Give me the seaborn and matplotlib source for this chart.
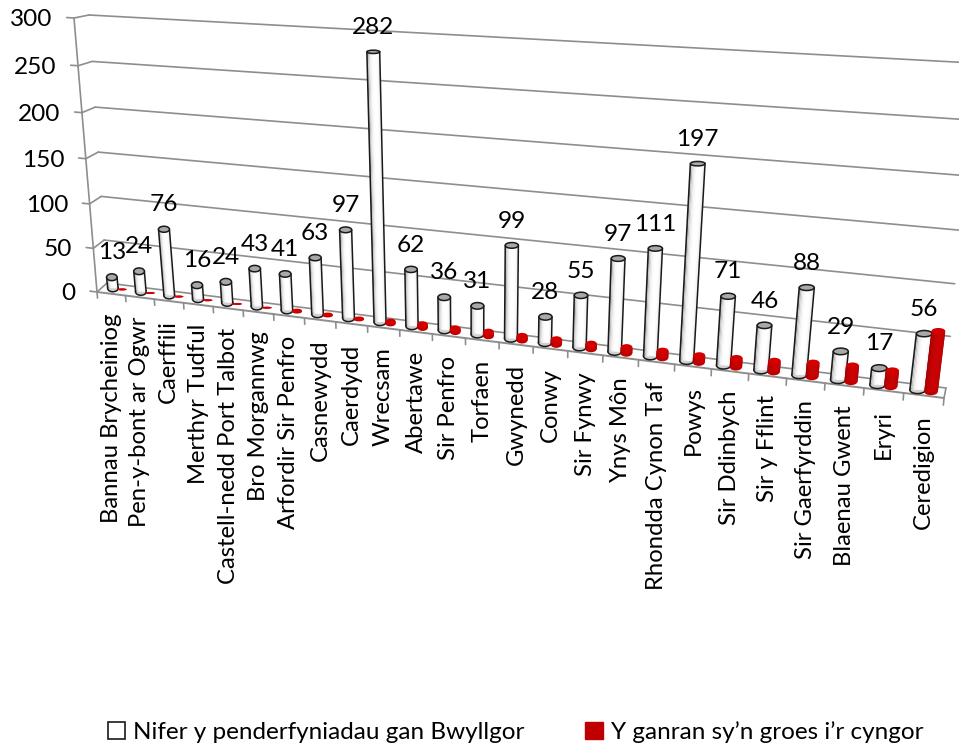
import numpy as np
import pandas as pd
import matplotlib
matplotlib.use('Agg')
import matplotlib.pyplot as plt
import seaborn as sns
from matplotlib.patches import Ellipse, Rectangle, Patch
from matplotlib.transforms import Transform

categories = ['Bannau Brycheiniog', 'Pen-y-bont ar Ogwr', 'Caerffili', 'Merthyr Tudful',
              'Castell-nedd Port Talbot', 'Bro Morgannwg', 'Arfordir Sir Penfro', 'Casnewydd',
              'Caerdydd', 'Wrecsam', 'Abertawe', 'Sir Penfro', 'Torfaen', 'Gwynedd', 'Conwy',
              'Sir Fynwy', 'Ynys Môn', 'Rhondda Cynon Taf', 'Powys', 'Sir Ddinbych', 'Sir y Fflint',
              'Sir Gaerfyrddin', 'Blaenau Gwent', 'Eryri', 'Ceredigion']
decisions = [13, 24, 76, 16, 24, 43, 41, 63, 97, 282, 62, 36, 31, 99, 28, 55, 97, 111, 197, 71,
             46, 88, 29, 17, 56]
against_advice = [0, 0, 0, 0, 0, 0, 1, 1, 1, 2, 3, 3, 4, 4, 5, 5, 6, 7, 7, 9, 11, 14, 16, 16, 60]
y_ticks = [0, 50, 100, 150, 200, 250, 300]
series_names = ['Nifer y penderfyniadau gan Bwyllgor', 'Y ganran sy’n groes i’r cyngor']

W, H = 959, 746
FS = 17.6
GRID = '#8e8e8e'
RED = '#c00000'
BAR_WIDTH = 0.66
WHITE_WIDEN = 1.15


def fit_plane(uv, px):
    # homography from (category, value) to picture pixels
    rows, rhs = [], []
    for (u, v), (x, y) in zip(uv, px):
        rows.append([u, v, 1, 0, 0, 0, -u * x, -v * x])
        rows.append([0, 0, 0, u, v, 1, -u * y, -v * y])
        rhs += [x, y]
    sol = np.linalg.lstsq(np.array(rows, float), np.array(rhs, float), rcond=None)[0]
    return np.append(sol, 1).reshape(3, 3)


class Plane(Transform):
    input_dims = 2
    output_dims = 2
    is_separable = False
    has_inverse = False

    def __init__(self, matrix):
        super().__init__()
        self.matrix = matrix

    def transform_non_affine(self, values):
        values = np.asarray(values, float)
        pts = np.column_stack([values, np.ones(len(values))]) @ self.matrix.T
        return pts[:, :2] / pts[:, 2:]


edge_uv = [(-0.5, 0), (24.5, 0), (-0.5, 300), (24.5, 300)]
front = Plane(fit_plane(edge_uv, [(97, 292), (944, 398), (74, 18), (973, 73)]))
back = Plane(fit_plane(edge_uv, [(107, 283), (946, 388), (89, 15), (973, 63)]))
bars = Plane(fit_plane(
    [(-0.165, 0), (1.835, 0), (1.835, 76), (8.835, 0), (8.835, 282),
     (17.835, 0), (17.835, 197), (23.835, 0), (23.835, 56)],
    [(112.5, 288), (169, 295), (165, 230), (379.5, 322), (372.5, 52),
     (687, 361), (699, 163), (919, 390), (922, 334)]))

sns.set_theme(style='white')
plt.rcParams['font.family'] = ['Lato', 'DejaVu Sans']

df = pd.DataFrame({
    'category': categories * 2,
    'value': decisions + against_advice,
    'series': [series_names[0]] * 25 + [series_names[1]] * 25,
})

fig = plt.figure(figsize=(W / 100, H / 100), dpi=100)
ax = fig.add_axes([0, 0, 1, 1])
sns.barplot(data=df, x='category', y='value', hue='series', order=categories, hue_order=series_names,
            palette=['white', RED], width=BAR_WIDTH, gap=0, legend=False, ax=ax)
ax.set_xlim(0, W)
ax.set_ylim(H, 0)
ax.autoscale(False)
ax.axis('off')

tf_front = front + ax.transData
tf_back = back + ax.transData
tf_bars = bars + ax.transData

# walls and floor
for v in y_ticks:
    ax.plot([-0.5, 24.5], [v, v], color=GRID, lw=1.2, transform=tf_back, zorder=1, clip_on=False)
    a = front.transform_non_affine([[-0.5, v]])[0]
    b = back.transform_non_affine([[-0.5, v]])[0]
    ax.plot([a[0], b[0]], [a[1], b[1]], color=GRID, lw=1.2, zorder=1)
    ax.plot([-0.5, -0.75], [v, v], color=GRID, lw=1.2, transform=tf_front, zorder=1)
    ax.annotate(str(v), xy=(-0.5, v), xycoords=tf_front, xytext=(-15.5, -1), textcoords='offset points',
                ha='right', va='center', fontsize=FS, color='black')
ax.plot([-0.5, -0.5], [0, 300], color=GRID, lw=1.2, transform=tf_front, zorder=1)
ax.plot([-0.5, 24.5], [0, 0], color=GRID, lw=1.4, transform=tf_front, zorder=1)
a = front.transform_non_affine([[24.5, 0]])[0]
b = back.transform_non_affine([[24.5, 0]])[0]
ax.plot([a[0], b[0]], [a[1], b[1]], color=GRID, lw=1.2, zorder=1)

for i, name in enumerate(categories):
    ax.plot([i - 0.5, i - 0.5], [0, -7], color=GRID, lw=1.2, transform=tf_front, zorder=1)
    ax.annotate(name, xy=(i, 0), xycoords=tf_front, xytext=(0, -14), textcoords='offset points',
                ha='center', va='top', rotation=90, fontsize=17.2, color='black')
ax.plot([24.5, 24.5], [0, -7], color=GRID, lw=1.2, transform=tf_front, zorder=1)


def ellipse_height(v):
    return 7 - 0.013 * v


def level_ellipse(xc, w, v, height, **kw):
    # ellipses stay level in the picture, only their centre and width follow the plane
    left, right = bars.transform_non_affine([[xc - w / 2, v], [xc + w / 2, v]])
    centre = (left + right) / 2
    return Ellipse(centre, right[0] - left[0], height, **kw)


def level_shift(x, xc):
    # value offset that cancels the slope of the plane across one bar
    pts = bars.transform_non_affine([[x, 0], [xc, 0]])
    return pts[0, 1] - pts[1, 1]


def draw_cylinder(rect, order, is_red):
    if not is_red:
        xc = rect.get_x() + rect.get_width() / 2
        rect.set_width(rect.get_width() * WHITE_WIDEN)
        rect.set_x(xc - rect.get_width() / 2)
    x0, w, h = rect.get_x(), rect.get_width(), rect.get_height()
    xc = x0 + w / 2
    z = 3 + order * 0.01 + (0.005 if is_red else 0)
    base_h = min(ellipse_height(0), 2 + 2 * h) if is_red else ellipse_height(0)
    top_h = min(ellipse_height(h), 2 + 2 * h) if is_red else ellipse_height(h)

    # the seaborn bar is the body, inset so its sloped ends stay inside the ellipses
    rect.set_transform(tf_bars)
    rect.set_linewidth(0)
    rect.set_zorder(z + 0.0005)
    rect.set_clip_on(False)
    rect.set_y(1)
    rect.set_height(max(h - 2, 0))

    edge = 'none' if is_red else '#1a1a1a'
    ax.add_patch(level_ellipse(xc, w, 0, base_h, fc=RED if is_red else '#d0d0d0', ec=edge, lw=1.1, zorder=z))
    strips = 12
    for k in range(strips):
        t = abs((k + 0.5) / strips * 2 - 1.2) / 1.2
        if is_red:
            col = (0.82 - 0.2 * t ** 2, 0, 0)
        else:
            g = 1 - 0.5 * t ** 3
            col = (g, g, g)
        sx = x0 + k * w / strips
        shift = level_shift(sx + w / strips / 2, xc)
        ax.add_patch(Rectangle((sx, shift), w / strips, h, transform=tf_bars, fc=col, lw=0,
                               zorder=z + 0.001))
    if not is_red:
        for side in (x0, x0 + w):
            shift = level_shift(side, xc)
            ax.plot([side, side], [shift, h + shift], color='#1a1a1a', lw=1.1, transform=tf_bars,
                    zorder=z + 0.002)
    ax.add_patch(level_ellipse(xc, w, h, top_h, fc='#d40000' if is_red else '#a8a8a8', ec=edge, lw=1.1,
                               zorder=z + 0.003))


for i, rect in enumerate(ax.containers[0]):
    value = rect.get_height()
    draw_cylinder(rect, i, False)
    xc = rect.get_x() + rect.get_width() / 2
    ax.annotate(str(decisions[i]), xy=(xc, value), xycoords=tf_bars, xytext=(0, 17.5),
                textcoords='offset points', ha='center', va='center', fontsize=FS, color='black', zorder=6)
for i, rect in enumerate(ax.containers[1]):
    draw_cylinder(rect, i, True)

handles = [Patch(fc='white', ec='#1a1a1a', lw=1.2), Patch(fc=RED, ec=RED)]
ax.legend(handles, series_names, ncol=2, loc='center left', bbox_to_anchor=(108 / W, 0.0188), frameon=False,
          fontsize=17.45, handlelength=0.72, handleheight=0.68, handletextpad=0.33, columnspacing=2.5,
          borderpad=0, borderaxespad=0, labelcolor='black')

fig.savefig('out.png', dpi=100)
